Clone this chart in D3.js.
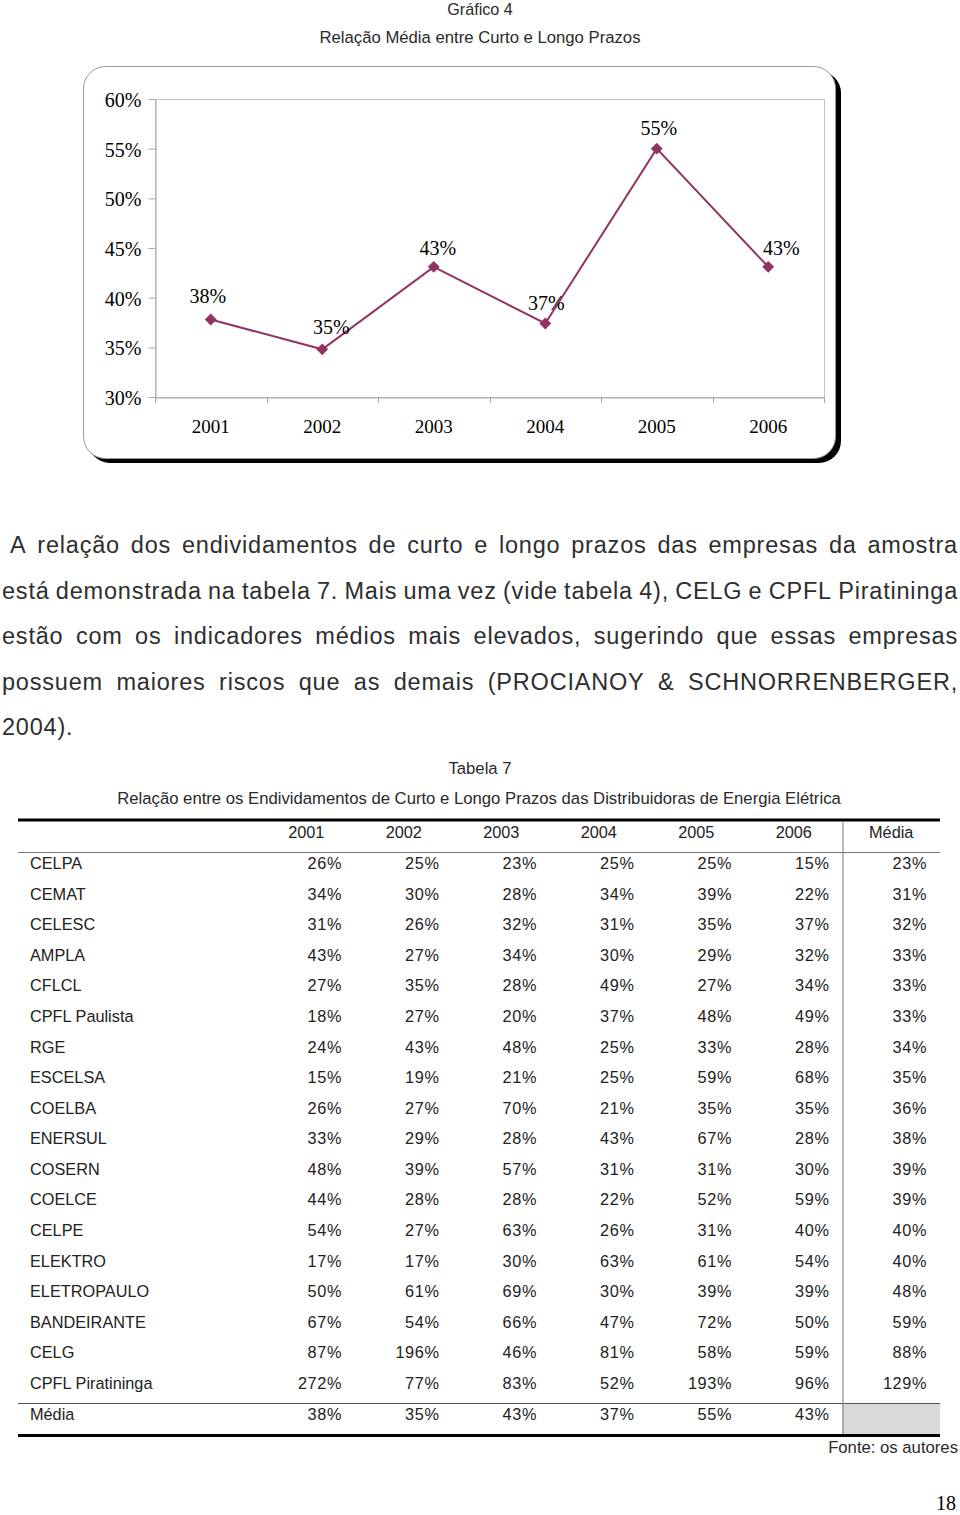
<!DOCTYPE html>
<html>
<head>
<meta charset="utf-8">
<script src="https://cdn.jsdelivr.net/npm/d3@7"></script>
<style>
  body { margin: 0; background: #fff; }
  svg { display: block; }
</style>
</head>
<body>
<div id="page"></div>
<script>
// chart data
const years = ["2001", "2002", "2003", "2004", "2005", "2006"];
const media = [0.378, 0.348, 0.431, 0.374, 0.550, 0.431];
const yTicks = [0.30, 0.35, 0.40, 0.45, 0.50, 0.55, 0.60];

// table data
const tableCols = ["2001", "2002", "2003", "2004", "2005", "2006", "Média"];
const companies = ["CELPA", "CEMAT", "CELESC", "AMPLA", "CFLCL", "CPFL Paulista", "RGE", "ESCELSA", "COELBA",
  "ENERSUL", "COSERN", "COELCE", "CELPE", "ELEKTRO", "ELETROPAULO", "BANDEIRANTE", "CELG", "CPFL Piratininga"];
const values = [
  [26, 25, 23, 25, 25, 15, 23],
  [34, 30, 28, 34, 39, 22, 31],
  [31, 26, 32, 31, 35, 37, 32],
  [43, 27, 34, 30, 29, 32, 33],
  [27, 35, 28, 49, 27, 34, 33],
  [18, 27, 20, 37, 48, 49, 33],
  [24, 43, 48, 25, 33, 28, 34],
  [15, 19, 21, 25, 59, 68, 35],
  [26, 27, 70, 21, 35, 35, 36],
  [33, 29, 28, 43, 67, 28, 38],
  [48, 39, 57, 31, 31, 30, 39],
  [44, 28, 28, 22, 52, 59, 39],
  [54, 27, 63, 26, 31, 40, 40],
  [17, 17, 30, 63, 61, 54, 40],
  [50, 61, 69, 30, 39, 39, 48],
  [67, 54, 66, 47, 72, 50, 59],
  [87, 196, 46, 81, 58, 59, 88],
  [272, 77, 83, 52, 193, 96, 129]
];
const mediaRow = [38, 35, 43, 37, 55, 43];

const paragraph = [
  " A relação dos endividamentos de curto e longo prazos das empresas da amostra",
  "está demonstrada na tabela 7. Mais uma vez (vide tabela 4), CELG e CPFL Piratininga",
  "estão com os indicadores médios mais elevados, sugerindo que essas empresas",
  "possuem maiores riscos que as demais (PROCIANOY & SCHNORRENBERGER,",
  "2004)."
];

const W = 960, H = 1515;
const sans = "'Liberation Sans', Arial, sans-serif";
const serif = "'Liberation Serif', 'Times New Roman', serif";

const svg = d3.select("#page").append("svg").attr("width", W).attr("height", H);

// titles
svg.append("text").attr("x", 480).attr("y", 15).attr("text-anchor", "middle")
   .style("font", `16.2px ${sans}`).attr("fill", "#2a2a2a").text("Gráfico 4");
svg.append("text").attr("x", 480).attr("y", 43).attr("text-anchor", "middle")
   .style("font", `16.7px ${sans}`).attr("fill", "#2a2a2a").text("Relação Média entre Curto e Longo Prazos");

// chart frame with shadow
svg.append("rect").attr("x", 88).attr("y", 71).attr("width", 753).attr("height", 392)
   .attr("rx", 22).attr("fill", "#000");
svg.append("rect").attr("x", 83.5).attr("y", 66.5).attr("width", 752).attr("height", 392)
   .attr("rx", 22).attr("fill", "#fff").attr("stroke", "#9a9a9a").attr("stroke-width", 1);

// plot area
const plot = {left: 155, right: 824, top: 99, bottom: 397};
const x = d3.scaleBand().domain(years).range([plot.left, plot.right]);
const y = d3.scaleLinear().domain([0.30, 0.60]).range([plot.bottom, plot.top]);

svg.append("rect").attr("x", plot.left + 0.5).attr("y", plot.top + 0.5)
   .attr("width", plot.right - plot.left).attr("height", plot.bottom - plot.top)
   .attr("fill", "none").attr("stroke", "#c4c4c4");

// y axis
const yAxis = svg.append("g").attr("transform", `translate(${plot.left + 0.5},0)`)
  .call(d3.axisLeft(y).tickValues(yTicks).tickSize(7).tickPadding(7).tickFormat(d3.format(".0%")));
yAxis.select(".domain").attr("stroke", "#a8a8a8");
yAxis.selectAll(".tick line").attr("stroke", "#a8a8a8");
yAxis.selectAll("text").style("font", `20px ${serif}`).attr("fill", "#000").attr("dy", "0.38em");

// x axis
const xAxis = svg.append("g").attr("transform", `translate(0,${plot.bottom + 0.5})`)
  .call(d3.axisBottom(x).tickSize(0).tickPadding(22));
xAxis.select(".domain").attr("stroke", "#a8a8a8");
xAxis.selectAll("text").style("font", `19px ${serif}`).attr("fill", "#000");
svg.append("g").selectAll("line").data(years.map(d => x(d)).concat([plot.right])).join("line")
   .attr("x1", d => Math.round(d) + 0.5).attr("x2", d => Math.round(d) + 0.5)
   .attr("y1", plot.bottom).attr("y2", plot.bottom + 6).attr("stroke", "#a8a8a8");

// line and markers
const cx = d => x(d) + x.bandwidth() / 2;
const color = "#913461";
svg.append("path").datum(years)
   .attr("d", d3.line().x(d => cx(d)).y((d, i) => y(media[i])))
   .attr("fill", "none").attr("stroke", color).attr("stroke-width", 2);
svg.append("g").selectAll("path").data(years).join("path")
   .attr("d", d3.symbol(d3.symbolSquare, 70))
   .attr("transform", (d, i) => `translate(${cx(d)},${y(media[i])}) rotate(45)`)
   .attr("fill", color);

// data labels
const labelDx = [-3, 9, 4, 1, 2, 13];
const labelDy = [-17, -15, -12, -13, -14, -12];
svg.append("g").selectAll("text").data(years).join("text")
   .attr("x", (d, i) => cx(d) + labelDx[i])
   .attr("y", (d, i) => y(media[i]) + labelDy[i])
   .attr("text-anchor", "middle").style("font", `20px ${serif}`).attr("fill", "#000")
   .text((d, i) => d3.format(".0%")(media[i]));

// justified paragraph
const pg = svg.append("g").attr("fill", "#2e2e2e").style("font", `23.5px ${sans}`)
  .style("letter-spacing", "0.8px");
paragraph.forEach((line, li) => {
  const baseY = 553 + li * 45.5;
  const left = line.startsWith(" ") ? 10 : 2;
  const words = line.trim().split(" ");
  const tmp = words.map(w => pg.append("text").attr("y", baseY).text(w));
  const widths = tmp.map(t => t.node().getComputedTextLength());
  const last = li === paragraph.length - 1;
  const total = d3.sum(widths);
  const gap = last ? 7 : (958 - left - total) / (words.length - 1);
  let pos = left;
  tmp.forEach((t, i) => { t.attr("x", pos); pos += widths[i] + gap; });
});

// table captions
svg.append("text").attr("x", 480).attr("y", 774).attr("text-anchor", "middle")
   .style("font", `16.7px ${sans}`).attr("fill", "#2a2a2a").text("Tabela 7");
svg.append("text").attr("x", 479).attr("y", 804).attr("text-anchor", "middle")
   .style("font", `16.7px ${sans}`).attr("fill", "#2a2a2a")
   .text("Relação entre os Endividamentos de Curto e Longo Prazos das Distribuidoras de Energia Elétrica");

// table
const tLeft = 18, tRight = 940;
const colX = d3.scaleBand().domain(tableCols).range([257.5, 940]);
const rowY = d3.scaleLinear().domain([0, companies.length - 1]).range([863, 1383]);
const tg = svg.append("g").style("font", `16.3px ${sans}`).attr("fill", "#222");

// grey cell
tg.append("rect").attr("x", colX("Média")).attr("y", 1404).attr("width", colX.bandwidth()).attr("height", 31)
  .attr("fill", "#d9d9d9");

// rules
tg.append("line").attr("x1", tLeft).attr("x2", tRight).attr("y1", 820).attr("y2", 820)
  .attr("stroke", "#000").attr("stroke-width", 3);
tg.append("line").attr("x1", tLeft).attr("x2", tRight).attr("y1", 852.5).attr("y2", 852.5)
  .attr("stroke", "#777").attr("stroke-width", 1);
tg.append("line").attr("x1", tLeft).attr("x2", tRight).attr("y1", 1403.5).attr("y2", 1403.5)
  .attr("stroke", "#555").attr("stroke-width", 1);
tg.append("line").attr("x1", tLeft).attr("x2", tRight).attr("y1", 1435.5).attr("y2", 1435.5)
  .attr("stroke", "#000").attr("stroke-width", 3);
tg.append("line").attr("x1", colX("Média") + 0.5).attr("x2", colX("Média") + 0.5).attr("y1", 821).attr("y2", 1434)
  .attr("stroke", "#777").attr("stroke-width", 1);

// header
tg.append("g").selectAll("text").data(tableCols).join("text")
  .attr("x", d => colX(d) + colX.bandwidth() / 2).attr("y", 838).attr("text-anchor", "middle")
  .text(d => d);

// body rows
const rows = tg.append("g").selectAll("g").data(companies).join("g")
  .attr("transform", (d, i) => `translate(0,${rowY(i) + 6})`);
rows.append("text").attr("x", 30).text(d => d);
rows.selectAll("text.v").data((d, i) => values[i]).join("text").attr("class", "v")
  .attr("x", (d, j) => colX(tableCols[j]) + colX.bandwidth() - 13).attr("text-anchor", "end")
  .style("letter-spacing", "0.6px").text(d => d + "%");

// média row
const mr = tg.append("g").attr("transform", `translate(0,${1414 + 6})`);
mr.append("text").attr("x", 30).text("Média");
mr.selectAll("text.v").data(mediaRow).join("text").attr("class", "v")
  .attr("x", (d, j) => colX(tableCols[j]) + colX.bandwidth() - 13).attr("text-anchor", "end")
  .style("letter-spacing", "0.6px").text(d => d + "%");

// source and page number
svg.append("text").attr("x", 958).attr("y", 1453).attr("text-anchor", "end")
   .style("font", `16.7px ${sans}`).attr("fill", "#2a2a2a").text("Fonte: os autores");
svg.append("text").attr("x", 956).attr("y", 1510).attr("text-anchor", "end")
   .style("font", `20px ${serif}`).attr("fill", "#000").text("18");
</script>
</body>
</html>
